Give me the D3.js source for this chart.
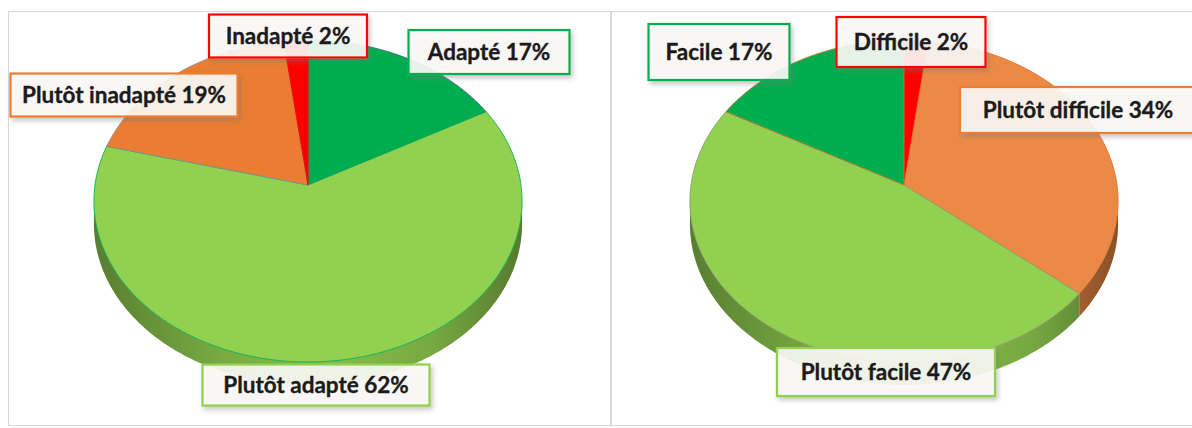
<!DOCTYPE html>
<html>
<head>
<meta charset="utf-8">
<script src="https://cdn.jsdelivr.net/npm/d3@7"></script>
<style>
  body { margin: 0; background: #fff; }
  svg { display: block; }
</style>
</head>
<body>
<div id="chart-area"></div>
<script>
// chart values
var leftCategories = ["Adapté", "Plutôt adapté", "Plutôt inadapté", "Inadapté"];
var leftValues = [17, 62, 19, 2];
var rightCategories = ["Difficile", "Plutôt difficile", "Plutôt facile", "Facile"];
var rightValues = [2, 34, 47, 17];

// styles
var leftColors = ["#00ad4e", "#92d050", "#ea7d31", "#ff0000"];
var leftEdges = ["#3d6488", "#00b050", "#8c8c8c", "#ff0000"];
var leftBorders = ["#00b050", "#92d050", "#ed7d31", "#ff0000"];
var rightColors = ["#ff0000", "#ec8a45", "#92d050", "#00ad4e"];
var rightEdges = ["#ff0000", "#d8742f", "#8d9c6c", "#c07a2a"];
var rightBorders = ["#ff0000", "#ed7d31", "#92d050", "#00b050"];

// label boxes: offset of box centre from pie vertex, box size
var leftBoxes = [
    {dx: 181, dy: -133, w: 161, h: 44},
    {dx: 8, dy: 200, w: 227, h: 41},
    {dx: -184, dy: -90, w: 227, h: 43},
    {dx: -20, dy: -149, w: 158, h: 43}
];
var rightBoxes = [
    {dx: 7, dy: -143, w: 149, h: 50},
    {dx: 174, dy: -75, w: 236, h: 46},
    {dx: -18, dy: 187, w: 218, h: 48},
    {dx: -185, dy: -133, w: 141, h: 56}
];

var width = 1192, height = 428;
var VY = 185;          // vertex y
var A = 213, B = 159.4, P = -0.0995;   // perspective ellipse
var H = 23;            // thickness

var svg = d3.select("#chart-area")
    .append("svg")
        .attr("width", width)
        .attr("height", height);

var defs = svg.append("defs");
var shadow = defs.append("filter")
    .attr("id", "shadow")
    .attr("x", "-20%").attr("y", "-30%")
    .attr("width", "140%").attr("height", "170%");
shadow.append("feDropShadow")
    .attr("dx", 2).attr("dy", 3)
    .attr("stdDeviation", 2.5)
    .attr("flood-color", "#777")
    .attr("flood-opacity", 0.45);

// panel frames
svg.append("rect")
    .attr("x", 8.5).attr("y", 11.5)
    .attr("width", 602).attr("height", 414)
    .attr("fill", "none").attr("stroke", "#d9d9d9");
svg.append("rect")
    .attr("x", 611.5).attr("y", 11.5)
    .attr("width", 600).attr("height", 414)
    .attr("fill", "none").attr("stroke", "#d9d9d9");

function proj(theta, cx) {
    var u = Math.sin(theta), w = -Math.cos(theta);
    var d = 1 + P * w;
    return [cx + A * u / d, VY + B * w / d];
}

function arcPoints(a0, a1, cx, dy) {
    var pts = [];
    var n = Math.max(2, Math.ceil((a1 - a0) / 0.01));
    for (var i = 0; i <= n; i++) {
        var p = proj(a0 + (a1 - a0) * i / n, cx);
        pts.push([p[0], p[1] + (dy || 0)]);
    }
    return pts;
}

var line = d3.line();
var th0 = Math.acos(P), th1 = 2 * Math.PI - th0;

function drawPie(id, cx, cats, vals, colors, edges, borders, boxes) {
    var pie = d3.pie().sort(null).value((d) => { return d; });
    var arcs = pie(vals);
    var g = svg.append("g").attr("class", id);

    // side gradients
    colors.forEach((c, i) => {
        var base = d3.color(c);
        var grad = defs.append("linearGradient")
            .attr("id", id + "-side-" + i)
            .attr("gradientUnits", "userSpaceOnUse")
            .attr("x1", cx - A).attr("x2", cx + A)
            .attr("y1", 0).attr("y2", 0);
        grad.append("stop").attr("offset", 0).attr("stop-color", base.darker(1.4));
        grad.append("stop").attr("offset", 0.3).attr("stop-color", base.darker(0.55));
        grad.append("stop").attr("offset", 0.55).attr("stop-color", base.darker(0.25));
        grad.append("stop").attr("offset", 0.8).attr("stop-color", base.darker(0.6));
        grad.append("stop").attr("offset", 1).attr("stop-color", base.darker(1.5));
    });

    // sides
    arcs.forEach((a, i) => {
        var s = Math.max(a.startAngle, th0), e = Math.min(a.endAngle, th1);
        if (e <= s) return;
        var top = arcPoints(s, e, cx, 0);
        var bot = arcPoints(s, e, cx, H).reverse();
        g.append("path")
            .attr("d", line(top.concat(bot)) + "Z")
            .attr("fill", "url(#" + id + "-side-" + i + ")");
    });

    // top faces
    arcs.forEach((a, i) => {
        var pts = [[cx, VY]].concat(arcPoints(a.startAngle, a.endAngle, cx, 0));
        g.append("path")
            .attr("d", line(pts) + "Z")
            .attr("fill", colors[i])
            .attr("stroke", edges[i])
            .attr("stroke-width", 0.9)
            .attr("stroke-linejoin", "round");
    });

    // labels
    var labels = g.selectAll(".label")
        .data(arcs)
        .enter()
        .append("g")
            .attr("class", "label")
            .attr("transform", (d, i) => {
                return "translate(" + (cx + boxes[i].dx) + "," + (VY + boxes[i].dy) + ")";
            });

    labels.append("rect")
        .attr("x", (d, i) => { return -boxes[i].w / 2; })
        .attr("y", (d, i) => { return -boxes[i].h / 2; })
        .attr("width", (d, i) => { return boxes[i].w; })
        .attr("height", (d, i) => { return boxes[i].h; })
        .attr("fill", "#fdfcf8")
        .attr("fill-opacity", 0.88)
        .attr("stroke", (d, i) => { return borders[i]; })
        .attr("stroke-width", 2.2)
        .attr("filter", "url(#shadow)");

    labels.append("text")
        .attr("text-anchor", "middle")
        .attr("dy", "0.36em")
        .attr("font-family", "Lato, 'Open Sans', sans-serif")
        .attr("font-weight", 700)
        .attr("font-size", "22.5px")
        .attr("fill", "#1b1b1b")
        .attr("stroke", "#1b1b1b")
        .attr("stroke-width", 0.35)
        .text((d, i) => { return cats[i] + " " + vals[i] + "%"; });
}

drawPie("left", 308, leftCategories, leftValues, leftColors, leftEdges, leftBorders, leftBoxes);
drawPie("right", 904, rightCategories, rightValues, rightColors, rightEdges, rightBorders, rightBoxes);
</script>
</body>
</html>
